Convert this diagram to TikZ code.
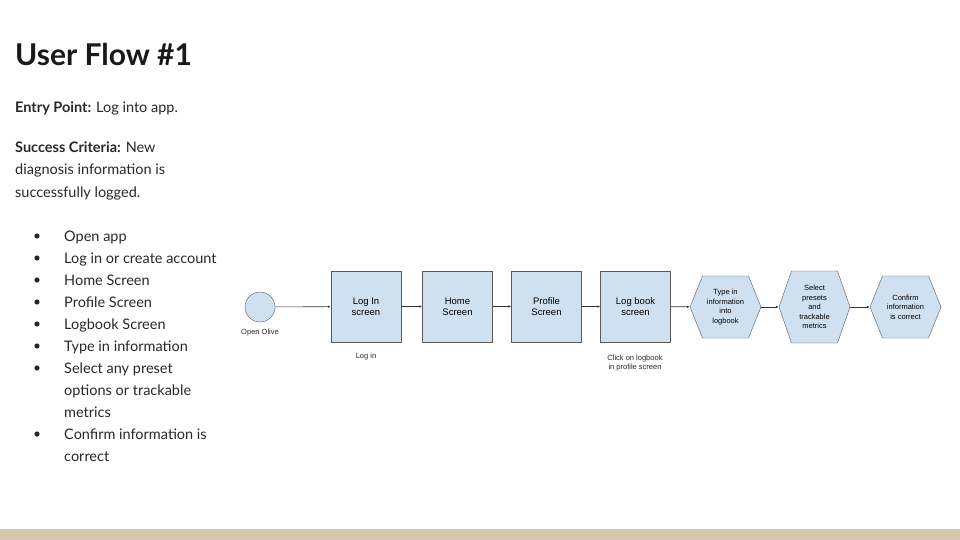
\documentclass[tikz,border=0pt]{standalone}
\usepackage{fontspec}
\setmainfont{Lato}
\newfontfamily\arialf{Liberation Sans}
\usetikzlibrary{arrows.meta}
\definecolor{boxfill}{RGB}{207,224,240}
\definecolor{boxline}{RGB}{90,90,90}
\definecolor{bar}{RGB}{213,201,172}
\definecolor{txt}{RGB}{40,40,40}
\begin{document}
\begin{tikzpicture}[x=1pt,y=-1pt,
  scr/.style={draw=boxline,fill=boxfill,minimum width=70pt,minimum height=71pt,inner sep=0pt,font=\arialf\fontsize{9.5}{11}\selectfont,align=center},
  lbl/.style={font=\arialf\fontsize{7.5}{9.5}\selectfont,align=center,text=txt},
  hexfill/.style={draw=boxline,fill=boxfill},
  hexn/.style={minimum width=72pt,minimum height=60pt,inner sep=0pt,font=\arialf\fontsize{7.5}{9.5}\selectfont,align=center},
  conn/.style={draw=black!80,line width=0.6pt,-{Latex[length=3pt,width=2.5pt]}},
  body/.style={anchor=base west,font=\fontsize{14.5}{17}\selectfont,text=txt,inner sep=0pt}]
\useasboundingbox (0,0) rectangle (960,540);
\fill[white] (0,0) rectangle (960,540);
\fill[bar] (0,529) rectangle (960,540);
\node[anchor=base west,inner sep=0pt,font=\fontsize{30}{34}\selectfont\bfseries,text=black!90] (title) at (15,66) {User Flow \#1};
\node[body] (ep) at (15,113) {\textbf{Entry Point:} Log into app.};
\node[body] (sc1) at (15,153) {\textbf{Success Criteria:} New};
\node[body] (sc2) at (15,175) {diagnosis information is};
\node[body] (sc3) at (15,197) {successfully logged.};
\foreach \t/\y/\b in {Open app/236/1,Log in or create account/258/1,Home Screen/280/1,Profile Screen/302/1,Logbook Screen/324/1,Type in information/346/1,Select any preset/368/1,options or trackable/390/0,metrics/412/0,Confirm information is/434/1,correct/456/0}{
  \node[body] (b\y) at (64,\y+5) {\t};
  \ifnum\b=1 \fill[txt] (37,\y) circle (2.6pt);\fi
}
\node[draw=boxline,fill=boxfill,circle,minimum size=30pt,inner sep=0pt] (start) at (260,307) {};
\node[lbl] (startl) at (260,333) {Open Olive};
\node[scr] (login) at (366,306.5) {Log In\\screen};
\node[scr] (home) at (457.5,306.5) {Home\\Screen};
\node[scr] (prof) at (546.5,306.5) {Profile\\Screen};
\node[scr] (logb) at (635.5,306.5) {Log book\\screen};
\node[lbl] (l1) at (366,357) {Log in};
\node[lbl] (l2) at (635,363) {Click on logbook\\in profile screen};
\foreach \cx/\h/\nm/\t in {725.5/31/h1/{Type in\\information\\into\\logbook},814.5/36/h2/{Select\\presets\\and\\trackable\\metrics},905.5/31/h3/{Confirm\\information\\is correct}}{
  \draw[hexfill] (\cx-35.5,307) -- (\cx-23,307-\h) -- (\cx+23,307-\h) -- (\cx+35.5,307) -- (\cx+23,307+\h) -- (\cx-23,307+\h) -- cycle;
  \node[hexn,minimum width=71pt] (\nm) at (\cx,307) {\t};
}
\draw[conn] (start) -- (login);
\draw[conn] (login) -- (home);
\draw[conn] (home) -- (prof);
\draw[conn] (prof) -- (logb);
\draw[conn] (logb) -- (h1);
\draw[conn] (h1) -- (h2);
\draw[conn] (h2) -- (h3);
\end{tikzpicture}
\end{document}
